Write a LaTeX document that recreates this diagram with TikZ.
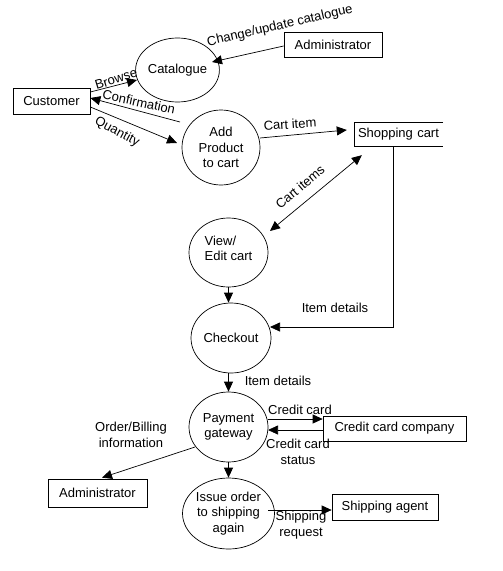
\documentclass[tikz,border=0pt]{standalone}
\usepackage{fontspec}
\setmainfont{Liberation Sans}
\usetikzlibrary{shapes.geometric,arrows.meta,calc}
\begin{document}
\begin{tikzpicture}[x=1pt,y=-1pt,
  every node/.style={font=\fontsize{13}{15.5}\selectfont},
  proc/.style={draw,ellipse,inner sep=0pt,line width=0.7pt},
  ent/.style={draw,rectangle,inner sep=0pt,line width=0.7pt},
  arr/.style={-{Triangle[length=10pt,width=9pt]},line width=0.7pt},
  dbl/.style={{Triangle[length=10pt,width=9pt]}-{Triangle[length=10pt,width=9pt]},line width=0.7pt},
  lbl/.style={inner sep=0pt}
]
\fill[white] (0,0) rectangle (503,571);
\useasboundingbox (0,0) rectangle (503,571);

% entities and processes
\node[ent,minimum width=77pt,minimum height=26pt] (cust) at (51.5,101) {Customer};
\node[proc,minimum width=61pt,minimum height=64pt] (cat) at (177.5,70) {Catalogue};
\node[ent,minimum width=98pt,minimum height=25pt] (adm1) at (333,44.5) {Administrator};
\node[proc,minimum width=78pt,minimum height=75pt,align=center] (add) at (221,147.5) {Add\\Product\\to cart};
\node[inner xsep=3pt,inner ysep=0pt,text width=82pt,minimum height=23pt,align=left] (cart) at (399,134.5) {Shopping cart};
\draw[line width=0.7pt] (cart.north east) -- (cart.north west) -- (cart.south west) -- (cart.south east);
\node[proc,minimum width=79pt,minimum height=69pt,align=left,text depth=8pt] (view) at (228.5,252.5) {View/\\Edit cart};
\node[proc,minimum width=80pt,minimum height=70pt] (chk) at (231,338) {Checkout};
\node[proc,minimum width=79pt,minimum height=70pt,align=center] (pay) at (228.5,427) {Payment\\gateway};
\node[proc,minimum width=79pt,minimum height=71pt,align=center] (iss) at (228.5,513.5) {Issue order\\to shipping\\again};
\node[ent,minimum width=143pt,minimum height=25pt] (ccc) at (394.5,428.5) {Credit card company};
\node[ent,minimum width=99pt,minimum height=28pt] (adm2) at (97.5,493) {Administrator};
\node[ent,minimum width=106pt,minimum height=26pt] (sa) at (385,507) {Shipping agent};

% connectors
\draw[arr] ($(adm1.west)+(0,1.5)$) -- ($(cat.center)+(34.5,-8)$);
\draw[arr] ($(cust.east)+(0,-9)$) -- ($(cat.center)+(-40.5,10)$);
\draw[arr] ($(add.center)+(-41,-25.5)$) -- ($(cust.east)+(0,-3)$);
\draw[arr] ($(cust.east)+(0,6)$) -- ($(add.center)+(-44,-4.5)$);
\draw[arr] ($(add.center)+(39,-9.5)$) -- ($(cart.west)+(-8,-4.5)$);
\draw[dbl] ($(view.center)+(41.5,-21.5)$) -- ($(cart.south west)+(7,9)$);
\draw[arr] ($(cart.south west)+(39,0)$) |- ($(chk.center)+(39,-11)$);
\draw[arr] (view.south) -- (view.south |- chk.north);
\draw[arr] (pay.north |- chk.south) -- (pay.north);
\draw[arr] (pay.south) -- (iss.north);
\draw[arr] ($(pay.center)+(39,-8)$) -- ($(ccc.west)+(0,-9.5)$);
\draw[arr] ($(ccc.west)+(0,1.5)$) -- ($(pay.center)+(39.5,3)$);
\draw[arr] ($(pay.center)+(-33.5,20)$) -- ($(adm2.north)+(4.5,-1)$);
\draw[arr] ($(iss.center)+(39.5,-3.5)$) -- ($(sa.west)+(0,3)$);

% labels
\node[lbl,rotate=13] (lchg) at (280,26) {Change/update catalogue};
\node[lbl,rotate=17] (lbrw) at (116,79) {Browse};
\node[lbl,rotate=-12] (lconf) at (139,102) {Confirmation};
\node[lbl,rotate=-28] (lqty) at (117,132) {Quantity};
\node[lbl,rotate=4] (lci) at (290,124) {Cart item};
\node[lbl,rotate=40] (lcis) at (300,187) {Cart items};
\node[lbl] (lid1) at (335,308) {Item details};
\node[lbl] (lid2) at (278,381) {Item details};
\node[lbl] (lcc) at (300,410) {Credit card};
\node[lbl,align=center] (lccs) at (298,452) {Credit card\\status};
\node[lbl,align=center] (lob) at (131,435) {Order/Billing\\information};
\node[lbl,align=center] (lsr) at (301,525) {Shipping\\request};
\end{tikzpicture}
\end{document}
